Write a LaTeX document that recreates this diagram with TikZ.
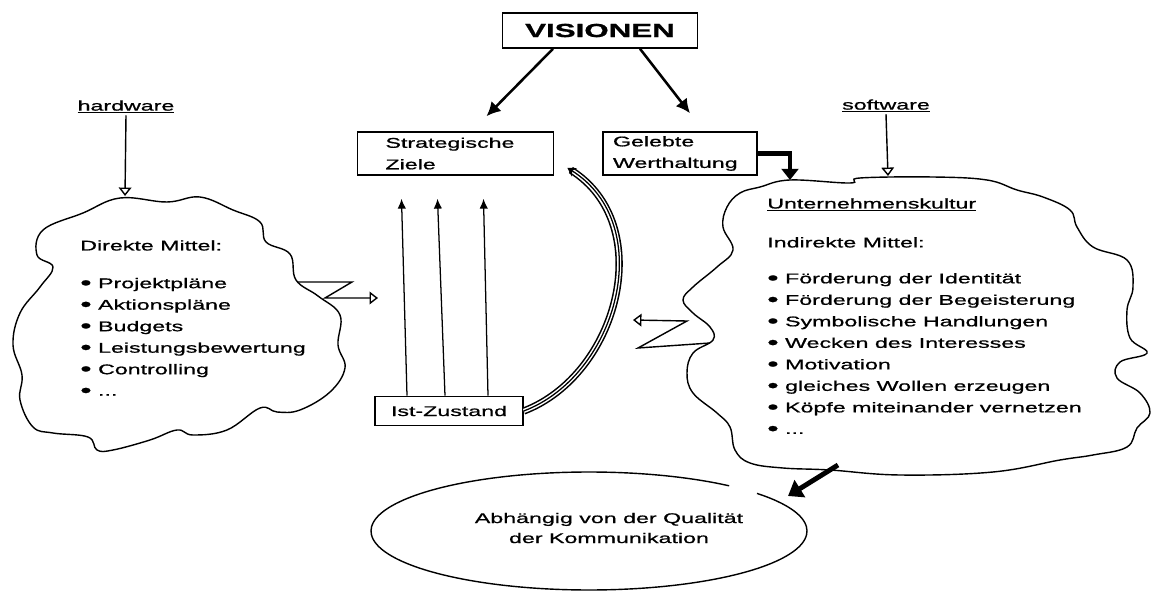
\documentclass[tikz,border=0pt]{standalone}
\usepackage{fontspec}
\setmainfont{Liberation Sans}[FakeStretch=1.65, FakeBold=0.9]
\usetikzlibrary{calc, positioning, arrows.meta}

\newcommand{\bul}{\raisebox{-0.9pt}{\fontsize{14}{14}\selectfont\textbullet}}

\tikzset{
  box/.style={draw, line width=1.1pt, inner sep=0pt},
  lbl/.style={font=\fontsize{10}{15.3}\selectfont},
  cloudline/.style={line width=1pt},
  visarrow/.style={line width=1.8pt, -{Latex[length=10pt,width=10pt]}},
  opentip/.style={line width=1pt, -{Triangle[open,length=6pt,width=9pt]}},
  uparrow/.style={line width=0.9pt, -{Latex[length=7pt,width=6pt]}},
  heavyarrow/.style={line width=3pt, -{Triangle[length=8pt,width=12pt]}},
}

\begin{document}
\begin{tikzpicture}[x=0.025cm, y=-0.025cm, lbl]
    \useasboundingbox (0,0) rectangle (1160,591);

    % boxes
    \node (vis) [box, minimum width=4.875cm, minimum height=0.875cm, font=\bfseries\fontsize{13.5}{16}\selectfont] at (600,30.5) {VISIONEN};
    \node (strat) [box, minimum height=1.075cm, text width=3.5cm, inner xsep=0.7cm, align=left] at (455.5,153.5) {Strategische\\Ziele};
    \node (werte) [box, minimum height=1.075cm, text width=3.35cm, inner xsep=0.25cm, align=left] at (680,153.5) {Gelebte\\Werthaltung};
    \node (ist) [box, minimum width=3.7cm, minimum height=0.725cm] at (449,411) {Ist-Zustand};
    \node (hw) [inner sep=1pt] at (126,107) {\underline{hardware}};
    \node (sw) [inner sep=1pt] at (886,106) {\underline{software}};

    % clouds
    \draw[cloudline] plot[smooth cycle, tension=0.65] coordinates {
      (43,230) (83,213) (120,198) (167,202) (200,197) (233,210) (260,222)
      (266,242) (290,254) (296,280) (318,296) (340,315) (338,345) (345,368)
      (330,392) (300,410) (277,412) (260,408) (227,430) (193,435) (177,430)
      (150,440) (113,450) (97,450) (88,437) (53,433) (33,427) (20,400)
      (22,375) (13,345) (20,313) (40,287) (53,267) (37,255)};
    \draw[cloudline] plot[smooth cycle, tension=0.65] coordinates {
      (760,187) (790,180) (850,183) (860,178) (933,177) (987,180) (1017,190)
      (1043,197) (1070,210) (1077,227) (1093,247) (1127,260) (1133,287)
      (1127,310) (1130,338) (1147,353) (1120,362) (1117,378) (1140,393)
      (1150,413) (1137,428) (1127,447) (1093,455) (1060,460) (993,472)
      (900,475) (830,470) (783,468) (750,463) (735,450) (730,427) (717,413)
      (693,393) (687,373) (693,353) (713,340) (710,327) (693,313) (683,300)
      (693,287) (717,267) (733,250) (723,227) (727,207) (740,193)};
    \draw[cloudline] plot[domain=50:399.6, samples=90, smooth] ({589+218*cos(\x)}, {531-59*sin(\x)});

    \coordinate (lcTop) at (125,196);
    \coordinate (lcZ) at (297,282);
    \coordinate (rcTop) at (888,176);
    \coordinate (rcNW) at (790,180);
    \coordinate (rcZ) at (710,343);
    \coordinate (rcS) at (838,465);
    \coordinate (ellNE) at (788,496);
    \coordinate (tripEnd) at ($(strat.south east)+(13,-8)$);

    % texts
    \node (direkt) [anchor=north west, align=left, inner sep=0pt] at (80,240) {Direkte Mittel:\\[11.5pt]
      \bul\ Projektpläne\\
      \bul\ Aktionspläne\\
      \bul\ Budgets\\
      \bul\ Leistungsbewertung\\
      \bul\ Controlling\\
      \bul\ ...};
    \node (indirekt) [anchor=north west, align=left, inner sep=0pt] at (767,198) {\underline{Unternehmenskultur}\\[12.4pt]
      Indirekte Mittel:\\[10.2pt]
      \bul\ Förderung der Identität\\
      \bul\ Förderung der Begeisterung\\
      \bul\ Symbolische Handlungen\\
      \bul\ Wecken des Interesses\\
      \bul\ Motivation\\
      \bul\ gleiches Wollen erzeugen\\
      \bul\ Köpfe miteinander vernetzen\\
      \bul\ ...};
    \node (abh) [align=center, font=\fontsize{10}{14.2}\selectfont] at (609,528) {Abhängig von der Qualität\\der Kommunikation};

    % connectors
    \draw[visarrow] ($(vis.south)+(-47,0)$) -- ($(strat.north)+(31,-15)$);
    \draw[visarrow] ($(vis.south)+(40,0)$) -- ($(werte.north)+(10,-18)$);
    \draw[heavyarrow] (werte.east) -| (rcNW);
    \draw[opentip] (hw.south) -- (lcTop);
    \draw[opentip] (sw.south) -- (rcTop);
    \foreach \a/\b in {-42/-54, -4/-18, 39/28}
      \draw[uparrow] ($(ist.north)+(\a,0)$) -- ($(strat.south)+(\b,23)$);
    \draw[line width=5.2pt, shorten >=3pt] (ist.east) .. controls (618,375) and (658,225) .. (tripEnd);
    \draw[line width=3pt, white, shorten >=3pt] (ist.east) .. controls (618,375) and (658,225) .. (tripEnd);
    \draw[line width=0.9pt, -{Stealth[length=6pt,width=7pt]}] (ist.east) .. controls (618,375) and (658,225) .. (tripEnd);
    \draw[opentip] (lcZ) -- ++(55,0) -- ++(-27,16) -- ++(53,0);
    \draw[opentip] (rcZ) -- ++(-72,5) -- ++(49,-27) -- ++(-54,-1);
    \draw[heavyarrow, line width=3.5pt, -{Triangle[length=10pt,width=14pt]}] (rcS) -- (ellNE);
\end{tikzpicture}
\end{document}
